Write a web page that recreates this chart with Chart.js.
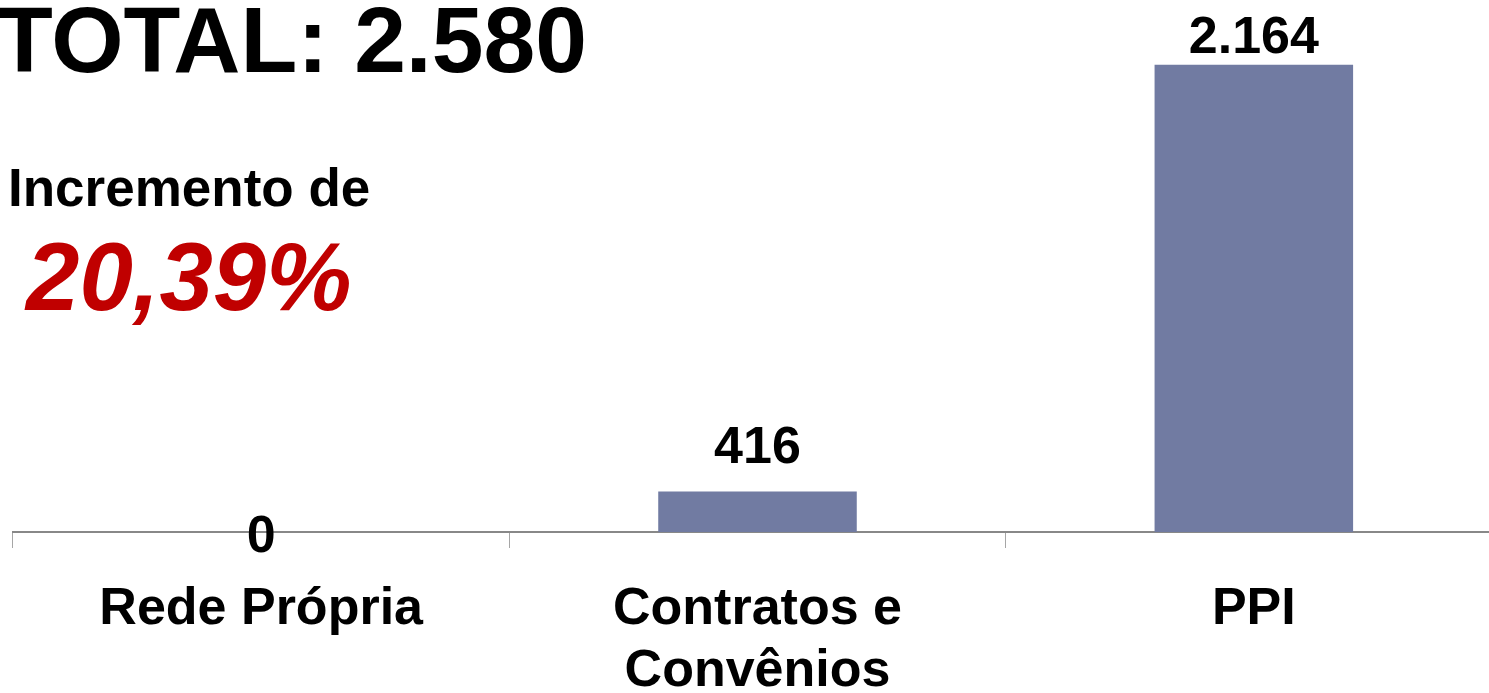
<!DOCTYPE html>
<html>
<head>
<meta charset="utf-8">
<script src="https://cdn.jsdelivr.net/npm/chart.js@4/dist/chart.umd.min.js"></script>
<style>
  html, body { margin: 0; padding: 0; background: #fff; overflow: hidden; }
  body { width: 1489px; height: 693px; position: relative; font-family: "Liberation Sans", Arial, sans-serif; }
  #wrap { position: absolute; left: 0; top: 0; width: 1510px; height: 693px; }
  .txt { position: absolute; white-space: nowrap; line-height: 1; font-weight: bold; }
  #total { left: -4px; top: -6px; font-size: 93px; color: #000; }
  #incr { left: 8px; top: 161px; font-size: 53px; color: #000; }
  #pct { left: 26px; top: 229px; font-size: 96px; font-style: italic; color: #c00000; }
</style>
</head>
<body>
<div id="wrap"><canvas id="chart" width="1510" height="693"></canvas></div>
<div class="txt" id="total"></div>
<div class="txt" id="incr"></div>
<div class="txt" id="pct"></div>
<script>
// data
const categories = ['Rede Própria', ['Contratos e', 'Convênios'], 'PPI'];
const values = [0, 416, 2164];
const totalText = 'TOTAL: 2.580';
const incrementText = 'Incremento de';
const incrementPct = '20,39%';

// axis range the original uses (bars are not drawn from zero)
const yMin = 250;
const yMax = 2200;

document.getElementById('total').textContent = totalText;
document.getElementById('incr').textContent = incrementText;
document.getElementById('pct').textContent = incrementPct;

const fmt = (v) => String(v).replace(/\B(?=(\d{3})+(?!\d))/g, '.');

// distance from bar top to label baseline
const labelGaps = [-20, 28, 12];

const valueLabels = {
  id: 'valueLabels',
  afterDatasetsDraw(chart) {
    const { ctx, chartArea } = chart;
    const meta = chart.getDatasetMeta(0);
    ctx.save();
    ctx.font = 'bold 52px "Liberation Sans", Arial, sans-serif';
    ctx.fillStyle = '#000';
    ctx.textAlign = 'center';
    ctx.textBaseline = 'alphabetic';
    meta.data.forEach((bar, i) => {
      const top = Math.min(bar.y, chartArea.bottom);
      ctx.fillText(fmt(values[i]), bar.x, top - labelGaps[i]);
    });
    ctx.restore();
  }
};

new Chart(document.getElementById('chart'), {
  type: 'bar',
  data: {
    labels: categories,
    datasets: [{
      data: values,
      backgroundColor: '#717ba2',
      borderWidth: 0,
      barPercentage: 0.8,
      categoryPercentage: 0.5,
      clip: 0
    }]
  },
  options: {
    responsive: false,
    animation: false,
    layout: { padding: { left: 13, right: 8, top: 56, bottom: 0 } },
    plugins: {
      legend: { display: false },
      tooltip: { enabled: false }
    },
    scales: {
      x: {
        grid: {
          drawOnChartArea: false,
          drawTicks: true,
          tickLength: 16,
          color: '#a6a6a6',
          lineWidth: 1
        },
        border: { display: true, color: '#888888', width: 2 },
        ticks: {
          color: '#000',
          padding: 30,
          font: { family: '"Liberation Sans", Arial, sans-serif', size: 52, weight: 'bold', lineHeight: 1.2 },
          maxRotation: 0,
          autoSkip: false
        },
        afterFit(axis) { axis.height = 161; }
      },
      y: {
        display: false,
        min: yMin,
        max: yMax
      }
    }
  },
  plugins: [valueLabels]
});
</script>
</body>
</html>
